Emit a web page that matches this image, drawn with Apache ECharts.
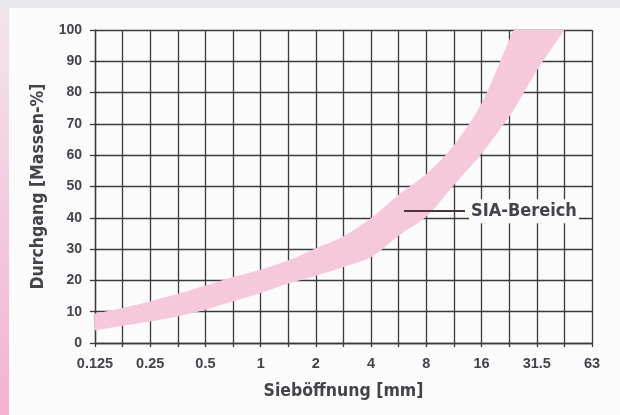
<!DOCTYPE html>
<html>
<head>
<meta charset="utf-8">
<script src="https://cdn.jsdelivr.net/npm/echarts@6/dist/echarts.min.js"></script>
<style>
  html, body { margin: 0; padding: 0; background: #f3f3f5; }
  #chart { width: 620px; height: 415px; }
</style>
</head>
<body>
<div id="chart"></div>
<script>
// Sieve opening tick labels (one label every two half-octave steps)
const sieveLabels = ['0.125', '0.25', '0.5', '1', '2', '4', '8', '16', '31.5', '63'];
const passingTicks = [0, 10, 20, 30, 40, 50, 60, 70, 80, 90, 100];

// Band position along the x axis in half-octave steps from 0.125 mm
const bandSteps = [0, 1, 2, 3, 4, 5, 6, 7, 8, 9, 10, 11, 12, 13, 14, 15, 15.2, 16, 17];
// Upper limit of SIA range (passing, mass-%)
const upperPassing = [9.4, 11.2, 13.3, 15.7, 18.4, 21.1, 23.4, 26.4, 30.3, 34.1, 39.9, 47.4, 54.0, 63.2, 76.5, 96.7, 100, 100, 100];
// Lower limit of SIA range (passing, mass-%)
const lowerPassing = [4.0, 5.5, 6.9, 8.5, 10.6, 13.3, 16.0, 19.0, 21.5, 24.3, 27.5, 34.3, 40.4, 50.5, 60.5, 72.3, 75.0, 87.0, 100];

const bandLabel = 'SIA-Bereich';
const bandLabelAnchor = [[11.19, 42.1], [13.4, 42.1]];

// value first, step second (so the stacked dimension is the passing value)
const lowerData = bandSteps.map((s, i) => [lowerPassing[i], s]);
const widthData = bandSteps.map((s, i) => [upperPassing[i] - lowerPassing[i], s]);

const fontNarrow = "'Liberation Sans Narrow', 'DejaVu Sans Condensed', 'Liberation Sans', sans-serif";
const fontTick = "'Liberation Sans', Arial, sans-serif";
const gridColor = '#3b3a3d';
const textColor = '#45424a';

const chart = echarts.init(document.getElementById('chart'), null, { renderer: 'canvas' });
chart.setOption({
  backgroundColor: '#f3f3f5',
  animation: false,
  graphic: [
    { type: 'rect', z: -10, shape: { x: 0, y: 0, width: 620, height: 8 }, style: { fill: '#e8e8ec' } },
    { type: 'rect', z: -10, shape: { x: 9, y: 8, width: 611, height: 407 }, style: { fill: '#fbfbfc' } },
    { type: 'rect', z: -10, shape: { x: 0, y: 8, width: 9, height: 407 },
      style: { fill: new echarts.graphic.LinearGradient(0, 0, 1, 1, [
        { offset: 0, color: '#f2e4ec' }, { offset: 1, color: '#f4b2cf' }]) } }
  ],
  grid: { left: 95, right: 28, top: 30, bottom: 72, containLabel: false },
  xAxis: {
    type: 'value',
    min: 0, max: (sieveLabels.length - 1) * 2, interval: 1,
    name: 'Sieböffnung [mm]',
    nameLocation: 'middle',
    nameGap: 39,
    nameTextStyle: { fontFamily: fontNarrow, fontWeight: 'bold', fontSize: 17.5, color: textColor },
    axisLine: { show: true, lineStyle: { color: gridColor, width: 1.3 } },
    axisTick: { show: true, length: 4, lineStyle: { color: gridColor, width: 1.3 } },
    splitLine: { show: true, lineStyle: { color: gridColor, width: 1.3 } },
    axisLabel: {
      margin: 13,
      fontFamily: fontTick, fontWeight: 'bold', fontSize: 14.5, color: textColor,
      formatter: v => (v % 2 === 0 ? sieveLabels[v / 2] : '')
    }
  },
  yAxis: {
    type: 'value',
    min: passingTicks[0], max: passingTicks[passingTicks.length - 1], interval: 10,
    name: 'Durchgang [Massen-%]',
    nameLocation: 'middle',
    nameGap: 48,
    nameTextStyle: { fontFamily: fontNarrow, fontWeight: 'bold', fontSize: 17.5, color: textColor },
    axisLine: { show: true, lineStyle: { color: gridColor, width: 1.3 } },
    axisTick: { show: true, length: 5, lineStyle: { color: gridColor, width: 1.3 } },
    splitLine: { show: true, lineStyle: { color: gridColor, width: 1.3 } },
    axisLabel: { margin: 13, fontFamily: fontTick, fontWeight: 'bold', fontSize: 14, color: textColor }
  },
  series: [
    {
      type: 'line', name: 'lower', stack: 'band', data: lowerData,
      encode: { x: 1, y: 0 },
      smooth: 0.3, symbol: 'none', silent: true,
      lineStyle: { opacity: 0 }, z: 3
    },
    {
      type: 'line', name: 'band', stack: 'band', data: widthData,
      encode: { x: 1, y: 0 },
      smooth: 0.3, symbol: 'none', silent: true,
      lineStyle: { opacity: 0 },
      areaStyle: { color: '#f6c8dc', opacity: 1 },
      z: 3
    },
    {
      type: 'line', name: 'label', data: [], silent: true, z: 5,
      markLine: {
        silent: true, symbol: 'none', animation: false,
        lineStyle: { color: '#4a3440', width: 2, type: 'solid' },
        label: {
          show: true, position: 'end', distance: 4,
          formatter: bandLabel,
          fontFamily: fontNarrow, fontWeight: 'bold', fontSize: 18, color: textColor,
          backgroundColor: '#fbfbfc', padding: [4, 2, 2, 2]
        },
        data: [[{ coord: bandLabelAnchor[0] }, { coord: bandLabelAnchor[1] }]]
      }
    }
  ]
});
</script>
</body>
</html>
